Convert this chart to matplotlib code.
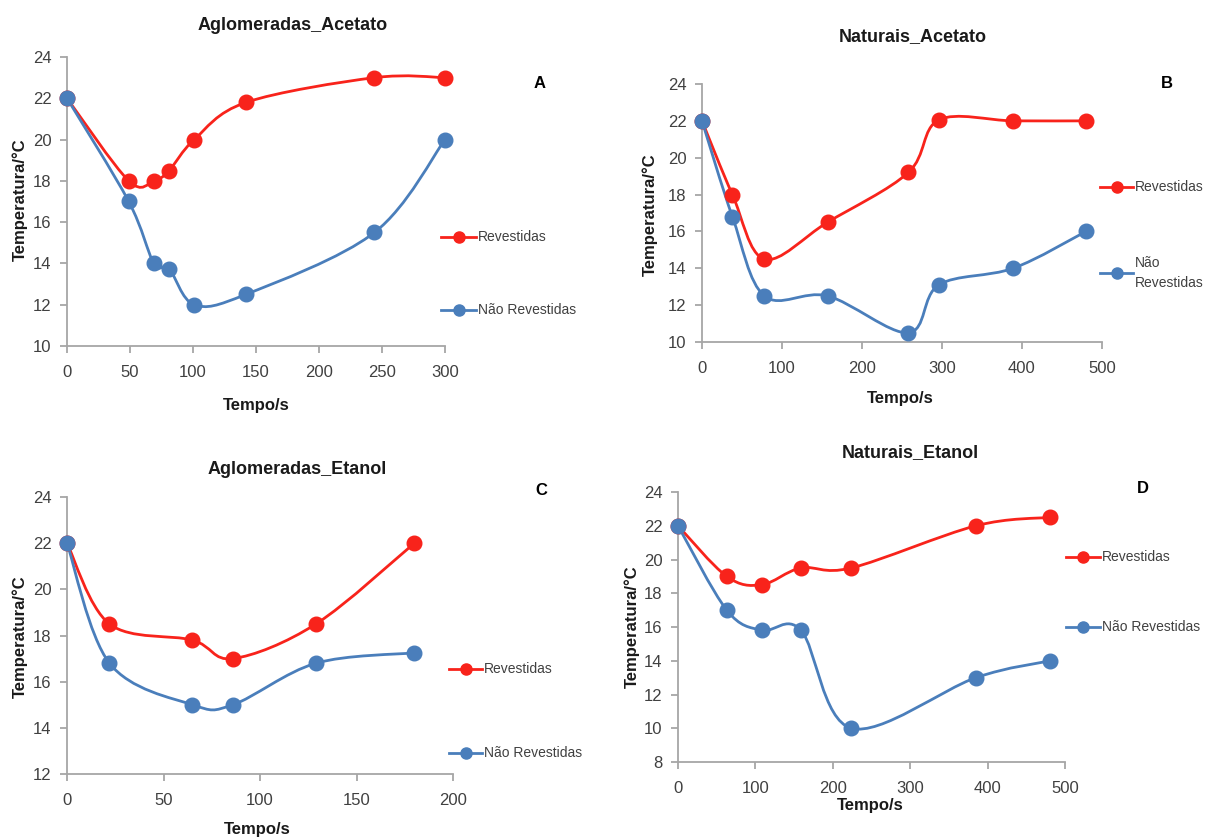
import matplotlib
matplotlib.use('Agg')
import matplotlib.pyplot as plt
from matplotlib.path import Path
from matplotlib.patches import PathPatch
from matplotlib.lines import Line2D
import numpy as np

plt.rcParams['font.family'] = ['Liberation Sans', 'DejaVu Sans']

# A - Aglomeradas_Acetato
a_x_rev = [0, 49, 69, 81, 101, 142, 244, 300]
a_y_rev = [22, 18, 18, 18.5, 20, 21.8, 23, 23]
a_x_nrev = [0, 49, 69, 81, 101, 142, 244, 300]
a_y_nrev = [22, 17, 14, 13.75, 12, 12.5, 15.5, 20]

# B - Naturais_Acetato
b_x_rev = [0, 38, 78, 157, 258, 296, 389, 480]
b_y_rev = [22, 18, 14.5, 16.5, 19.2, 22.05, 22, 22]
b_x_nrev = [0, 38, 78, 157, 258, 296, 389, 480]
b_y_nrev = [22, 16.8, 12.5, 12.5, 10.5, 13.1, 14, 16]

# C - Aglomeradas_Etanol
c_x_rev = [0, 22, 65, 86, 129, 180]
c_y_rev = [22, 18.5, 17.8, 17, 18.5, 22]
c_x_nrev = [0, 22, 65, 86, 129, 180]
c_y_nrev = [22, 16.8, 15, 15, 16.8, 17.25]

# D - Naturais_Etanol
d_x_rev = [0, 63, 108, 159, 224, 385, 481]
d_y_rev = [22, 19, 18.5, 19.5, 19.5, 22, 22.5]
d_x_nrev = [0, 63, 108, 159, 224, 385, 481]
d_y_nrev = [22, 17, 15.8, 15.8, 10, 13, 14]

RED = '#F8231B'
BLUE = '#4A7EBB'
AXC = '#A6A6A6'
TXT = '#404040'

W, H = 1206, 838
fig = plt.figure(figsize=(W / 100, H / 100), dpi=100)


def px(x, y):
    return x / W, 1 - y / H


def smooth_path(xs, ys):
    # excel style smoothed line (catmull-rom -> bezier)
    pts = np.column_stack([xs, ys]).astype(float)
    n = len(pts)
    verts = [pts[0]]
    codes = [Path.MOVETO]
    for i in range(n - 1):
        p0 = pts[i - 1] if i > 0 else pts[i]
        p1 = pts[i]
        p2 = pts[i + 1]
        p3 = pts[i + 2] if i + 2 < n else pts[i + 1]
        c1 = p1 + (p2 - p0) / 6
        c2 = p2 - (p3 - p1) / 6
        verts += [c1, c2, p2]
        codes += [Path.CURVE4] * 3
    return Path(verts, codes)


def panel(box, xs_r, ys_r, xs_n, ys_n, xlim, xstep, ylim, title, tpos,
          xlab_pos, ylab_pos, letter, lpos, leg_r, leg_n, leg_n_text):
    l, t, r, b = box
    ax = fig.add_axes([l / W, 1 - b / H, (r - l) / W, (b - t) / H])
    for xs, ys, c in [(xs_r, ys_r, RED), (xs_n, ys_n, BLUE)]:
        ax.add_patch(PathPatch(smooth_path(xs, ys), fill=False, edgecolor=c,
                               lw=2.0, zorder=3))
        ax.plot(xs, ys, 'o', color=c, ms=10.5, zorder=4, clip_on=False)
    ax.set_xlim(*xlim)
    ax.set_ylim(*ylim)
    ax.set_xticks(np.arange(xlim[0], xlim[1] + 1, xstep))
    ax.set_yticks(np.arange(ylim[0], ylim[1] + 1, 2))
    for s in ['top', 'right']:
        ax.spines[s].set_visible(False)
    for s in ['left', 'bottom']:
        ax.spines[s].set_color(AXC)
        ax.spines[s].set_linewidth(1.3)
    ax.tick_params(colors=AXC, labelcolor=TXT, labelsize=12, length=5,
                   width=1.3, pad=6)
    ax.tick_params(axis='x', pad=9)
    fig.text(*px(*tpos), title, ha='center', va='center', fontsize=13,
             fontweight='bold', color='#1a1a1a')
    fig.text(*px(*xlab_pos), 'Tempo/s', ha='center', va='center',
             fontsize=12, fontweight='bold', color='#1a1a1a')
    fig.text(*px(*ylab_pos), 'Temperatura/°C', ha='center', va='center',
             rotation=90, fontsize=12, fontweight='bold', color='#1a1a1a')
    fig.text(*px(*lpos), letter, ha='center', va='center', fontsize=12,
             fontweight='bold', color='black')
    for (x0, x1, y), c, txt in [(leg_r, RED, 'Revestidas'),
                                (leg_n, BLUE, leg_n_text)]:
        fx0, fy = px(x0, y)
        fx1, _ = px(x1, y)
        fig.add_artist(Line2D([fx0, fx1], [fy, fy], color=c, lw=2.0,
                              transform=fig.transFigure))
        fig.add_artist(Line2D([(fx0 + fx1) / 2], [fy], color=c, marker='o',
                              ms=8, transform=fig.transFigure))
        fig.text(*px(x1 + 2, y), txt, ha='left', va='center', fontsize=10,
                 color=TXT, linespacing=1.6)
    return ax


panel((67, 57, 445, 346), a_x_rev, a_y_rev, a_x_nrev, a_y_nrev,
      (0, 300), 50, (10, 24), 'Aglomeradas_Acetato', (293, 25),
      (256, 405), (20, 200), 'A', (540, 83),
      (441, 476, 237), (441, 476, 310), 'Não Revestidas')

panel((702, 84, 1102, 342), b_x_rev, b_y_rev, b_x_nrev, b_y_nrev,
      (0, 500), 100, (10, 24), 'Naturais_Acetato', (913, 37),
      (900, 398), (650, 215), 'B', (1167, 83),
      (1100, 1133, 187), (1100, 1133, 273), 'Não\nRevestidas')

panel((67, 497, 453, 774), c_x_rev, c_y_rev, c_x_nrev, c_y_nrev,
      (0, 200), 50, (12, 24), 'Aglomeradas_Etanol', (297, 469),
      (257, 829), (20, 637), 'C', (541, 490),
      (449, 482, 669), (449, 482, 753), 'Não Revestidas')

panel((678, 492, 1065, 762), d_x_rev, d_y_rev, d_x_nrev, d_y_nrev,
      (0, 500), 100, (8, 24), 'Naturais_Etanol', (910, 453),
      (870, 805), (632, 627), 'D', (1143, 488),
      (1066, 1100, 557), (1066, 1100, 627), 'Não Revestidas')

fig.savefig('out.png', dpi=100)
